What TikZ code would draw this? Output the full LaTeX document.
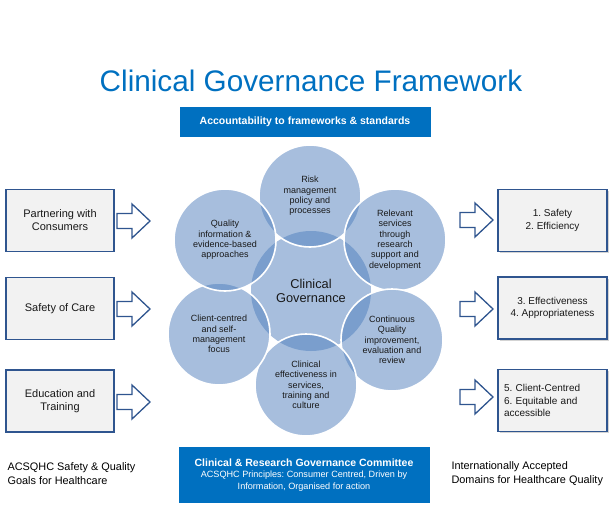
\documentclass[tikz,border=0pt]{standalone}
\usepackage{fontspec}
\setmainfont{Liberation Sans}
\usetikzlibrary{shadows}

\definecolor{cgblue}{RGB}{0,112,192}
\definecolor{edgeblue}{RGB}{47,85,143}
\definecolor{boxgray}{RGB}{242,242,242}
\definecolor{petal}{RGB}{79,126,188}
\definecolor{inktext}{RGB}{25,25,25}

\tikzset{
  goalbox/.style={draw=edgeblue, line width=1.3pt, fill=boxgray, minimum width=108pt, minimum height=62pt,
    align=center, font=\fontsize{11}{13}\selectfont, text=inktext},
  domainbox/.style={goalbox, font=\fontsize{10}{12.5}\selectfont,
    drop shadow={shadow xshift=1.5pt, shadow yshift=-1.5pt, opacity=0.35}},
  banner/.style={fill=cgblue, text=white, minimum width=251pt, align=center, inner sep=0pt},
  petalcirc/.style={circle, minimum size=102pt, inner sep=0pt, fill=petal, fill opacity=0.5,
    draw=white, draw opacity=1, line width=1.6pt},
  petaltext/.style={align=center, font=\fontsize{9}{10.3}\selectfont, text=inktext},
  sidenote/.style={anchor=west, align=left, font=\fontsize{10.9}{14}\selectfont, text=black},
  fatarrow/.pic={\draw[edgeblue, line width=1.3pt, fill=white, line join=miter]
    (0,-7.5) -- (15,-7.5) -- (15,-17) -- (33,0) -- (15,17) -- (15,7.5) -- (0,7.5) -- cycle;}
}

\begin{document}
\frenchspacing
\begin{tikzpicture}[x=1pt, y=-1pt]
\useasboundingbox (0,0) rectangle (613,515);

% title and banners
\node[anchor=base, text=cgblue, font=\fontsize{29.7}{32}\selectfont] (title) at (311,91) {Clinical Governance Framework};
\node[banner, minimum height=30pt, font=\bfseries\fontsize{10.5}{12}\selectfont] (account) at (305,122)
  {Accountability to frameworks \& standards};
\node[banner, minimum height=56pt, font=\fontsize{9.1}{11.5}\selectfont] (committee) at (304,475)
  {{\bfseries\fontsize{10.5}{11.5}\selectfont Clinical \& Research Governance Committee}\\
   ACSQHC Principles: Consumer Centred, Driven by\\
   Information, Organised for action};

% circles
\node[petalcirc, minimum size=120pt, draw=none] (cg) at (311,291) {};
\node[petalcirc] (risk) at (310,196) {};
\node[petalcirc] (relev) at (395,240) {};
\node[petalcirc] (cqi) at (392,340) {};
\node[petalcirc] (effect) at (306,385) {};
\node[petalcirc] (client) at (219,334) {};
\node[petalcirc] (qual) at (225,240) {};

\node[petaltext, font=\fontsize{12.8}{14}\selectfont] at (cg.center) {Clinical\\Governance};
\node[petaltext] at (risk.center) {Risk\\management\\policy and\\processes};
\node[petaltext] at (relev.center) {Relevant\\services\\through\\research\\support and\\development};
\node[petaltext] at (cqi.center) {Continuous\\Quality\\improvement,\\evaluation and\\review};
\node[petaltext] at (effect.center) {Clinical\\effectiveness in\\services,\\training and\\culture};
\node[petaltext] at (client.center) {Client-centred\\and self-\\management\\focus};
\node[petaltext] at (qual.center) {Quality\\information \&\\evidence-based\\approaches};

% left: safety and quality goals
\node[goalbox] (partner) at (60,220.5) {Partnering with\\Consumers};
\node[goalbox] (safety) at (60,308.5) {Safety of Care};
\node[goalbox] (educ) at (60,401) {Education and\\Training};

\pic at (117,221) {fatarrow};
\pic at (117,309) {fatarrow};
\pic at (117,402) {fatarrow};

% right: quality domains
\node[domainbox, minimum width=109pt] (dom1) at (552.5,220.5) {1. Safety\\2. Efficiency};
\node[domainbox, minimum width=109pt] (dom2) at (552.5,308) {3. Effectiveness\\4. Appropriateness};
\node[domainbox, minimum width=109pt, align=left, text width=97pt] (dom3) at (552.5,400.5)
  {5. Client-Centred\\6. Equitable and\\accessible};

\pic at (460,220) {fatarrow};
\pic at (460,309) {fatarrow};
\pic at (460,397) {fatarrow};

% captions
\node[sidenote] (goals) at (4,474) {ACSQHC Safety \& Quality\\Goals for Healthcare};
\node[sidenote] (domains) at (448,474) {Internationally Accepted\\Domains for Healthcare Quality};
\end{tikzpicture}
\end{document}
